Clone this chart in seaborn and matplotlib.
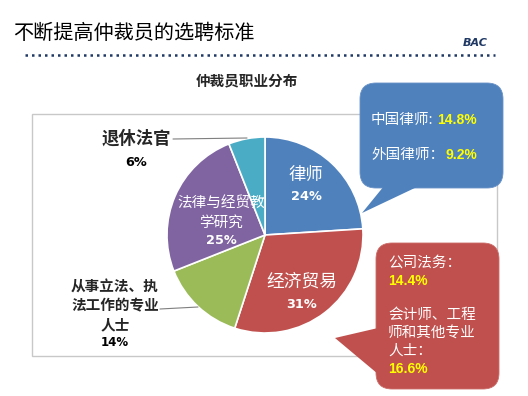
import matplotlib
matplotlib.use('Agg')
import matplotlib.pyplot as plt
import seaborn as sns
from matplotlib.patches import FancyBboxPatch, Polygon, Rectangle

# chart data
categories = ['律师', '经济贸易', '从事立法、执法工作的专业人士', '法律与经贸教学研究', '退休法官']
shares = [24, 31, 14, 25, 6]
slice_colors = ['#4F81BD', '#C0504D', '#9BBB59', '#8064A2', '#4BACC6']

lawyer_sub = ['中国律师', '外国律师']
lawyer_sub_pct = [14.8, 9.2]
trade_sub = ['公司法务', '会计师、工程师和其他专业人士']
trade_sub_pct = [14.4, 16.6]

page_title = '不断提高仲裁员的选聘标准'
chart_title = '仲裁员职业分布'
brand = 'BAC'

sns.set_theme(style='white')
plt.rcParams['font.family'] = ['Noto Sans CJK SC', 'DejaVu Sans']

W, H = 528, 396
fig = plt.figure(figsize=(W / 100, H / 100), dpi=100)
fig.patch.set_facecolor('white')

# pie axes, centre (265, 235) px, radius 98 px
cx, cy, r = 265, 235, 98
ax_pie = fig.add_axes([(cx - r) / W, 1 - (cy + r) / H, 2 * r / W, 2 * r / H])
ax_pie.pie(shares, colors=slice_colors, startangle=90, counterclock=False, radius=1,
           wedgeprops=dict(edgecolor='white', linewidth=1.2))
ax_pie.set_xlim(-1, 1)
ax_pie.set_ylim(-1, 1)
ax_pie.set_aspect('equal')
ax_pie.axis('off')

# overlay axes in pixel units
ax = fig.add_axes([0, 0, 1, 1])
ax.set_xlim(0, W)
ax.set_ylim(H, 0)
ax.axis('off')
ax.patch.set_alpha(0)

ax.text(13, 33, page_title, fontsize=14.5, fontweight='medium', ha='left', va='center', color='black')
ax.text(488, 43, brand, fontsize=8, ha='right', va='center', color='#1F3864',
        fontstyle='italic', fontweight='bold', family='DejaVu Sans')
ax.plot([25, 495], [55, 55], color='#1F3864', linestyle=(0, (1, 1.6)), linewidth=1.8)
ax.text(247, 80, chart_title, fontsize=10.5, fontweight='bold', ha='center', va='center')

# chart frame
ax.add_patch(Rectangle((32, 114), 465, 242, fill=False, edgecolor='#C8C8C8', linewidth=1))

pct = [f'{v}%' for v in shares]
pct_font = dict(family='DejaVu Sans', fontweight='bold', fontsize=9.3, ha='center', va='center')

# inside labels
ax.text(306, 175, categories[0], fontsize=12.5, color='white', ha='center', va='center')
ax.text(306, 197, pct[0], color='white', **pct_font)
ax.text(302, 282, categories[1], fontsize=12.8, color='white', ha='center', va='center')
ax.text(302, 305, pct[1], color='white', **pct_font)
ax.text(221, 203, '法律与经贸教', fontsize=10.5, color='white', ha='center', va='center')
ax.text(221, 223, '学研究', fontsize=10.5, color='white', ha='center', va='center')
ax.text(221, 241, pct[3], color='white', **pct_font)

# outside labels
ax.text(136, 139, categories[4], fontsize=12.5, fontweight='bold', ha='center', va='center')
ax.text(136, 162, pct[4], color='black', **pct_font)
ax.plot([173, 247], [139, 138], color='#7F7F7F', linewidth=0.8)
for i, line in enumerate(['从事立法、执', '法工作的专业', '人士']):
    ax.text(115, 286 + i * 19, line, fontsize=10.5, fontweight='bold', ha='center', va='center')
ax.text(115, 342, pct[2], color='black', family='DejaVu Sans', fontweight='bold',
        fontsize=8.5, ha='center', va='center')
ax.plot([160, 198], [309, 307], color='#7F7F7F', linewidth=0.8)

# blue callout
blue = '#4F81BD'
ax.add_patch(FancyBboxPatch((360, 83), 143, 105, boxstyle='round,pad=0,rounding_size=16',
                            facecolor=blue, edgecolor='#6A93C8', linewidth=0.6, zorder=3))
ax.add_patch(Polygon([(384, 186), (419, 186), (362, 213)], closed=True,
                     facecolor=blue, edgecolor='none', zorder=3))
sub_font = dict(fontsize=10.5, color='white', ha='left', va='center', zorder=4)
val_font = dict(family='Liberation Sans', fontweight='bold', fontsize=10, color='#FFFF00',
                ha='left', va='center', zorder=4)
ax.text(371, 120, lawyer_sub[0] + ':', **sub_font)
ax.text(437, 120, f'{lawyer_sub_pct[0]}%', **val_font)
ax.text(371, 155, lawyer_sub[1] + '：', **sub_font)
ax.text(446, 155, f'{lawyer_sub_pct[1]}%', **val_font)

# red callout
red = '#C0504D'
ax.add_patch(FancyBboxPatch((376, 243), 123, 146, boxstyle='round,pad=0,rounding_size=16',
                            facecolor=red, edgecolor='#CC6E6B', linewidth=0.6, zorder=3))
ax.add_patch(Polygon([(335, 338), (378, 328), (378, 374)], closed=True,
                     facecolor=red, edgecolor='none', zorder=3))
ax.text(388, 263, trade_sub[0] + '：', **sub_font)
ax.text(388, 281, f'{trade_sub_pct[0]}%', **val_font)
for i, line in enumerate(['会计师、工程', '师和其他专业', '人士：']):
    ax.text(388, 315 + i * 18, line, **sub_font)
ax.text(388, 369, f'{trade_sub_pct[1]}%', **val_font)

fig.savefig('out.png', dpi=100, facecolor='white')
